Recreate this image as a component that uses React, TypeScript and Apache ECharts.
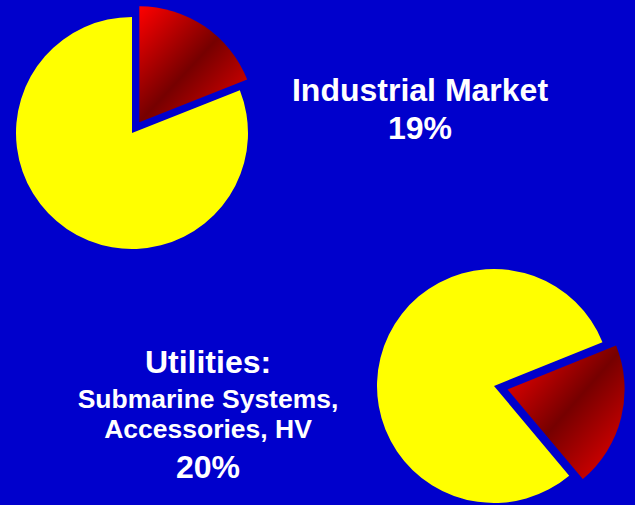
import React, { useEffect, useRef } from "react";
import * as echarts from "echarts";

const industrialNames = ["Industrial Market", "Other"];
const industrialValues = [19, 81];
const utilitiesNames = ["Utilities", "Other"];
const utilitiesValues = [20, 80];
const topLabelLines = ["Industrial Market", "19%"];
const bottomLabelLines = ["Utilities:", "Submarine Systems,", "Accessories, HV", "20%"];

const redGradient = () =>
  new echarts.graphic.LinearGradient(0, 0, 1, 1, [
    { offset: 0, color: "#ff0000" },
    { offset: 0.5, color: "#760000" },
    { offset: 1, color: "#ee0000" },
  ]);

export default function App() {
  const ref = useRef<HTMLDivElement>(null);
  useEffect(() => {
    document.body.style.margin = "0";
    const chart = echarts.init(ref.current!, null, { renderer: "svg" });
    const mkData = (names: string[], values: number[]) =>
      values.map((v, i) => ({
        name: names[i],
        value: v,
        selected: i === 0,
        itemStyle: { color: i === 0 ? redGradient() : "#ffff00" },
      }));
    const fontFamily = "'Liberation Sans', Arial, sans-serif";
    chart.setOption({
      animation: false,
      backgroundColor: "#0000cc",
      series: [
        {
          type: "pie",
          center: [132, 133],
          radius: 116,
          startAngle: 90,
          clockwise: true,
          selectedMode: "single",
          selectedOffset: 13,
          label: { show: false },
          labelLine: { show: false },
          emphasis: { disabled: true },
          itemStyle: { borderWidth: 0 },
          data: mkData(industrialNames, industrialValues),
        },
        {
          type: "pie",
          center: [494, 386],
          radius: 117,
          startAngle: 22,
          clockwise: true,
          selectedMode: "single",
          selectedOffset: 14,
          label: { show: false },
          labelLine: { show: false },
          emphasis: { disabled: true },
          itemStyle: { borderWidth: 0 },
          data: mkData(utilitiesNames, utilitiesValues),
        },
      ],
      graphic: [
        ...topLabelLines.map((t, i) => ({
          type: "text",
          x: 420,
          y: [90, 128][i],
          style: {
            text: t,
            fill: "#ffffff",
            fontFamily,
            fontWeight: "bold",
            fontSize: 32,
            textAlign: "center",
            textVerticalAlign: "middle",
          },
        })),
        ...bottomLabelLines.map((t, i) => ({
          type: "text",
          x: 208,
          y: [361.5, 398.5, 429, 466.5][i],
          style: {
            text: t,
            fill: "#ffffff",
            fontFamily,
            fontWeight: "bold",
            fontSize: i === 0 || i === 3 ? 32 : 26.5,
            textAlign: "center",
            textVerticalAlign: "middle",
          },
        })),
      ],
    });
    return () => chart.dispose();
  }, []);
  return <div ref={ref} style={{ width: 635, height: 505 }} />;
}
